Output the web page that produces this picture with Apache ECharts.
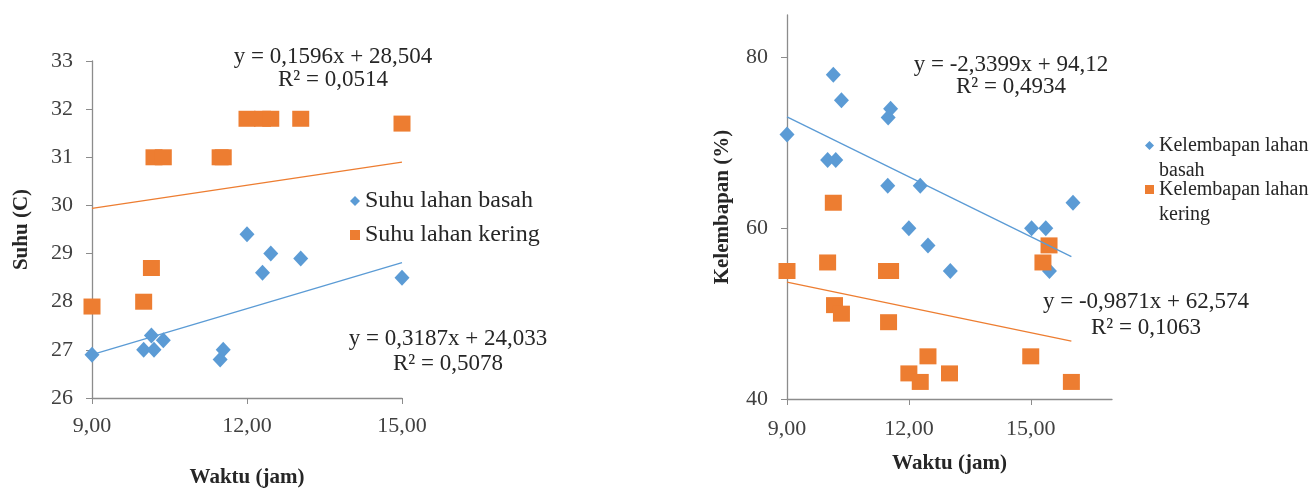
<!DOCTYPE html>
<html>
<head>
<meta charset="utf-8">
<script src="https://cdn.jsdelivr.net/npm/echarts@6/dist/echarts.min.js"></script>
<style>
html,body{margin:0;padding:0;background:#fff;}
#chart{width:1315px;height:488px;}
</style>
</head>
<body>
<div id="chart"></div>
<script>
// ---- Data ----
const suhuTime      = [9.0, 10.0, 10.15, 10.2, 10.38, 11.48, 11.54, 12.0, 12.3, 12.46, 13.04, 15.0];
const suhuBasah     = [26.9, 27.0, 27.3, 27.0, 27.2, 26.8, 27.0, 29.4, 28.6, 29.0, 28.9, 28.5];
const suhuKering    = [27.9, 28.0, 28.7, 31.0, 31.0, 31.0, 31.0, 31.8, 31.8, 31.8, 31.8, 31.7];
const suhuBasahFit  = [0.3187, 24.033];
const suhuKeringFit = [0.1596, 28.504];
const suhuFitRange  = [9, 15];

const humBasahTime  = [9.0, 10.0, 10.14, 10.2, 10.34, 11.48, 11.49, 11.55, 12.0, 12.28, 12.47, 13.02, 15.02, 15.37, 15.46, 16.04];
const humBasah      = [71, 68, 78, 68, 75, 65, 73, 74, 60, 65, 58, 55, 60, 60, 55, 63];
const humKeringTime = [9.0, 10.0, 10.14, 10.17, 10.34, 11.45, 11.5, 11.55, 12.0, 12.28, 12.47, 13.0, 15.0, 15.3, 15.45, 16.0];
const humKering     = [55, 56, 63, 51, 50, 55, 49, 55, 43, 42, 45, 43, 45, 56, 58, 42];
const humBasahFit   = [-2.3399, 94.12];
const humKeringFit  = [-0.9871, 62.574];
const humFitRange   = [9, 16];

const xTicks      = [9, 12, 15];
const humTicks    = [40, 60, 80];

const eqSuhuKering = ['y = 0,1596x + 28,504', 'R² = 0,0514'];
const eqSuhuBasah  = ['y = 0,3187x + 24,033', 'R² = 0,5078'];
const eqHumBasah   = ['y = -2,3399x + 94,12', 'R² = 0,4934'];
const eqHumKering  = ['y = -0,9871x + 62,574', 'R² = 0,1063'];

// ---- Styles ----
const BLUE = '#5B9BD5', ORANGE = '#ED7D31';
const FONT = 'Liberation Serif';
const AXIS = '#8c8c8c';
const TXT = '#262626';

const zip = (xs, ys) => xs.map((x, i) => [x, ys[i]]);
const fitLine = (c, r) => r.map(x => [x, c[0] * x + c[1]]);
const fmtX = v => v.toFixed(2).replace('.', ',');

function xAxisCfg(gi, max) {
  return {
    type: 'value', gridIndex: gi, min: 9, max: max, interval: 3,
    name: 'Waktu (jam)', nameLocation: 'middle', nameGap: gi === 0 ? 69 : 54,
    nameTextStyle: { fontFamily: FONT, fontWeight: 'bold', fontSize: 21, color: TXT },
    axisLine: { show: true, lineStyle: { color: AXIS, width: 1.3 } },
    axisTick: { show: true, length: 6, lineStyle: { color: AXIS }, customValues: xTicks },
    axisLabel: { fontFamily: FONT, fontSize: 22, color: '#404040', margin: gi === 0 ? 17 : 19, formatter: fmtX, customValues: xTicks },
    splitLine: { show: false }
  };
}

const option = {
  backgroundColor: '#fff',
  animation: false,
  grid: [
    { left: 92, right: 913, top: 61, bottom: 90, outerBoundsMode: 'none', containLabel: false },
    { left: 787, right: 203, top: 15, bottom: 89, outerBoundsMode: 'none', containLabel: false }
  ],
  xAxis: [xAxisCfg(0, 15), xAxisCfg(1, 17)],
  yAxis: [
    {
      type: 'value', gridIndex: 0, min: 26, max: 33, interval: 1,
      name: 'Suhu (C)', nameLocation: 'middle', nameRotate: 90, nameGap: 60,
      nameTextStyle: { fontFamily: FONT, fontWeight: 'bold', fontSize: 21, color: TXT },
      axisLine: { show: true, lineStyle: { color: AXIS, width: 1.3 } },
      axisTick: { show: true, length: 6, lineStyle: { color: AXIS } },
      axisLabel: { fontFamily: FONT, fontSize: 22, color: '#404040', margin: 19 },
      splitLine: { show: false }
    },
    {
      type: 'value', gridIndex: 1, min: 40, max: 85, interval: 20,
      name: 'Kelembapan (%)', nameLocation: 'middle', nameRotate: 90, nameGap: 54,
      nameTextStyle: { fontFamily: FONT, fontWeight: 'bold', fontSize: 21, color: TXT },
      axisLine: { show: true, lineStyle: { color: AXIS, width: 1.3 } },
      axisTick: { show: true, length: 6, lineStyle: { color: AXIS }, customValues: humTicks },
      axisLabel: { fontFamily: FONT, fontSize: 22, color: '#404040', margin: 19, customValues: humTicks },
      splitLine: { show: false }
    }
  ],
  legend: [
    {
      left: 350, top: 189, orient: 'vertical', itemGap: 10, padding: 0,
      itemWidth: 10, itemHeight: 10,
      textStyle: { fontFamily: FONT, fontSize: 24, color: TXT, lineHeight: 21 },
      data: [
        { name: 'Suhu lahan basah', icon: 'diamond' },
        { name: 'Suhu lahan kering', icon: 'rect' }
      ]
    },
    {
      left: 1145, top: 144 - 36, orient: 'vertical', padding: 0,
      itemWidth: 9, itemHeight: 9,
      textStyle: { fontFamily: FONT, fontSize: 20, color: TXT, lineHeight: 25 },
      formatter: n => '\u00a0\n' + n.replace(' basah', '\nbasah'),
      data: [{ name: 'Kelembapan lahan basah', icon: 'diamond' }]
    },
    {
      left: 1145, top: 188 - 36, orient: 'vertical', padding: 0,
      itemWidth: 9, itemHeight: 9,
      textStyle: { fontFamily: FONT, fontSize: 20, color: TXT, lineHeight: 25 },
      formatter: n => '\u00a0\n' + n.replace(' kering', '\nkering'),
      data: [{ name: 'Kelembapan lahan kering', icon: 'rect' }]
    }
  ],
  series: [
    { type: 'line', xAxisIndex: 0, yAxisIndex: 0, data: fitLine(suhuBasahFit, suhuFitRange), showSymbol: false, silent: true, lineStyle: { color: BLUE, width: 1.3 }, z: 1 },
    { type: 'line', xAxisIndex: 0, yAxisIndex: 0, data: fitLine(suhuKeringFit, suhuFitRange), showSymbol: false, silent: true, lineStyle: { color: ORANGE, width: 1.3 }, z: 1 },
    { name: 'Suhu lahan basah', type: 'scatter', xAxisIndex: 0, yAxisIndex: 0, data: zip(suhuTime, suhuBasah), symbol: 'diamond', symbolSize: [15, 16], itemStyle: { color: BLUE, opacity: 1 }, z: 3 },
    { name: 'Suhu lahan kering', type: 'scatter', xAxisIndex: 0, yAxisIndex: 0, data: zip(suhuTime, suhuKering), symbol: 'rect', symbolSize: [17, 16], itemStyle: { color: ORANGE, opacity: 1 }, z: 3 },

    { type: 'line', xAxisIndex: 1, yAxisIndex: 1, data: fitLine(humBasahFit, humFitRange), showSymbol: false, silent: true, lineStyle: { color: BLUE, width: 1.3 }, z: 4 },
    { type: 'line', xAxisIndex: 1, yAxisIndex: 1, data: fitLine(humKeringFit, humFitRange), showSymbol: false, silent: true, lineStyle: { color: ORANGE, width: 1.3 }, z: 4 },
    { name: 'Kelembapan lahan basah', type: 'scatter', xAxisIndex: 1, yAxisIndex: 1, data: zip(humBasahTime, humBasah), symbol: 'diamond', symbolSize: [15, 16], itemStyle: { color: BLUE, opacity: 1 }, z: 3 },
    { name: 'Kelembapan lahan kering', type: 'scatter', xAxisIndex: 1, yAxisIndex: 1, data: zip(humKeringTime, humKering), symbol: 'rect', symbolSize: [17, 16], itemStyle: { color: ORANGE, opacity: 1 }, z: 3 }
  ],
  graphic: []
};

function eqText(lines, cx, cy1, cy2) {
  return [
    { type: 'text', z: 10, style: { text: lines[0], x: cx, y: cy1, align: 'center', verticalAlign: 'middle', font: '23px "Liberation Serif"', fill: TXT } },
    { type: 'text', z: 10, style: { text: lines[1], x: cx, y: cy2, align: 'center', verticalAlign: 'middle', font: '23px "Liberation Serif"', fill: TXT } }
  ];
}
option.graphic = [].concat(
  eqText(eqSuhuKering, 333, 57, 80),
  eqText(eqSuhuBasah, 448, 339, 364),
  eqText(eqHumBasah, 1011, 65, 87),
  eqText(eqHumKering, 1146, 302, 328)
);

const chart = echarts.init(document.getElementById('chart'), null, { renderer: 'canvas' });
chart.setOption(option);
</script>
</body>
</html>
